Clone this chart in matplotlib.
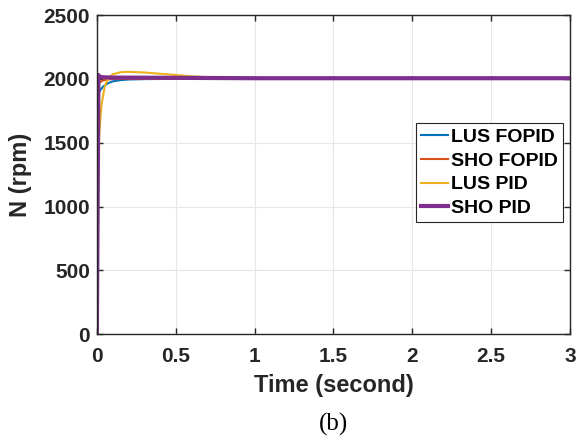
import matplotlib.pyplot as plt

# step responses (time in s, speed in rpm)
t_lus_fopid = [0, 0.005, 0.01, 0.02, 0.04, 0.07, 0.1, 0.15, 0.2, 0.3, 0.5, 1.0, 3.0]
n_lus_fopid = [0, 1200, 1880, 1910, 1940, 1965, 1980, 1990, 1995, 1998, 2000, 2000, 2000]

t_sho_fopid = [0, 0.005, 0.01, 0.02, 0.04, 0.07, 0.1, 0.2, 1.0, 3.0]
n_sho_fopid = [0, 1300, 1960, 1975, 1988, 1995, 1998, 2000, 2000, 2000]

t_lus_pid = [0, 0.005, 0.01, 0.02, 0.03, 0.05, 0.07, 0.1, 0.15, 0.2, 0.3, 0.4, 0.5, 0.6, 0.8, 1.0, 3.0]
n_lus_pid = [0, 900, 1450, 1650, 1800, 1940, 2000, 2035, 2052, 2055, 2050, 2040, 2030, 2020, 2008, 2002, 2000]

t_sho_pid = [0, 0.01, 0.02, 0.05, 0.1, 0.5, 1.0, 3.0]
n_sho_pid = [0, 2030, 2015, 2012, 2010, 2008, 2005, 2005]

plt.rcParams['font.family'] = ['Liberation Sans', 'DejaVu Sans']

fig = plt.figure(figsize=(5.87, 4.42), dpi=100)
ax = fig.add_axes([0.165, 0.244, 0.806, 0.722])

ax.plot(t_lus_fopid, n_lus_fopid, color='#0072BD', lw=1.5, label='LUS FOPID')
ax.plot(t_sho_fopid, n_sho_fopid, color='#D95319', lw=1.5, label='SHO FOPID')
ax.plot(t_lus_pid, n_lus_pid, color='#EDB120', lw=1.5, label='LUS PID')
ax.plot(t_sho_pid, n_sho_pid, color='#7E2F8E', lw=3, label='SHO PID')

ax.set_xlim(0, 3)
ax.set_ylim(0, 2500)
ax.set_xticks([0, 0.5, 1, 1.5, 2, 2.5, 3])
ax.set_xticklabels(['0', '0.5', '1', '1.5', '2', '2.5', '3'])
ax.set_yticks([0, 500, 1000, 1500, 2000, 2500])
ax.grid(True, color='#e6e6e6', lw=0.8)
ax.tick_params(direction='in', length=4, labelsize=15, width=1, colors='#262626',
               top=True, right=True)
ax.tick_params(axis='x', pad=9)
ax.tick_params(axis='y', pad=5)
for lbl in ax.get_xticklabels() + ax.get_yticklabels():
    lbl.set_fontweight('bold')
for s in ax.spines.values():
    s.set_color('#262626')
    s.set_linewidth(1)

ax.set_xlabel('Time (second)', fontsize=17, fontweight='bold', color='#262626', labelpad=6)
ax.set_ylabel('N (rpm)', fontsize=17, fontweight='bold', color='#262626', labelpad=8)

leg = ax.legend(loc='upper right', bbox_to_anchor=(0.985, 0.661), fancybox=False,
                framealpha=1, edgecolor='#262626', fontsize=14, handlelength=1.4,
                handletextpad=0.15, borderpad=0.25, labelspacing=0.32, borderaxespad=0)
for txt in leg.get_texts():
    txt.set_fontweight('bold')
leg.get_frame().set_linewidth(0.8)

fig.text(0.568, 0.025, '(b)', ha='center', va='baseline', fontsize=18, family='Liberation Serif')

fig.savefig('out.png', dpi=100)
